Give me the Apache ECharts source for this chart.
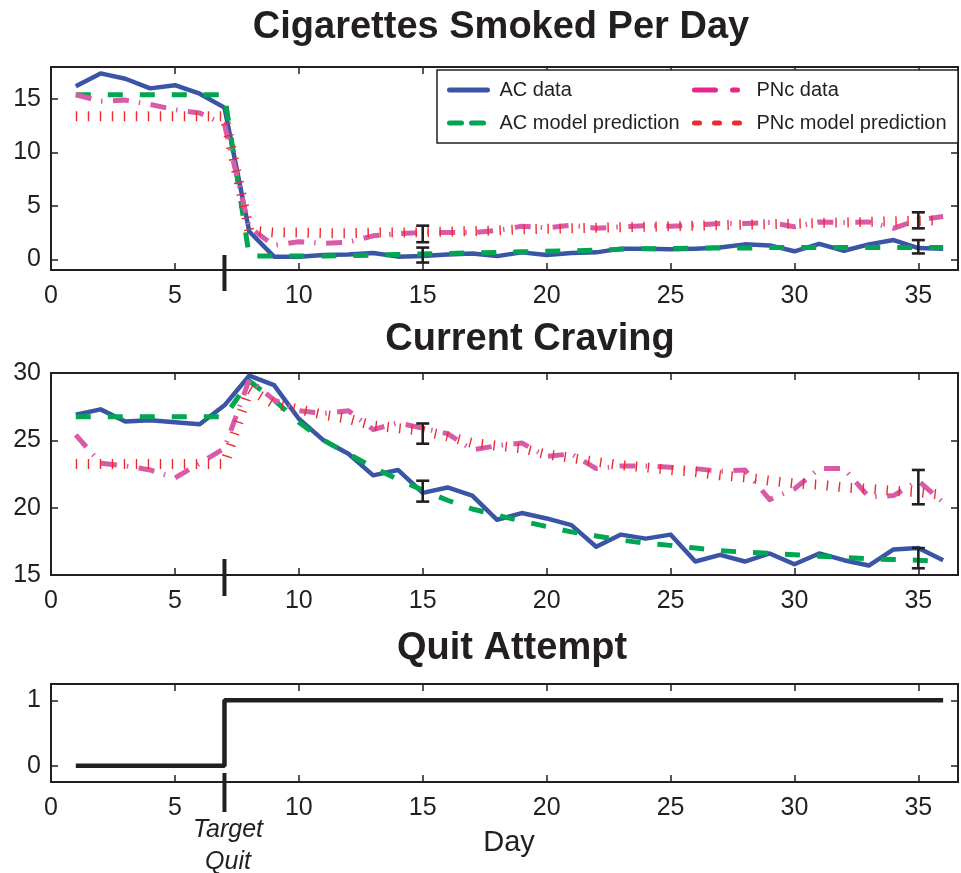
<!DOCTYPE html>
<html>
<head>
<meta charset="utf-8">
<script src="https://cdn.jsdelivr.net/npm/echarts@6/dist/echarts.min.js"></script>
<style>
html,body{margin:0;padding:0;background:#ffffff;}
#chart{width:961px;height:873px;}
</style>
</head>
<body>
<div id="chart"></div>
<script>
// ---------------- data ----------------
const days = [1,2,3,4,5,6,7,8,9,10,11,12,13,14,15,16,17,18,19,20,21,22,23,24,25,26,27,28,29,30,31,32,33,34,35,36];

const xTicks = [0,5,10,15,20,25,30,35];
const cigTicks = [0,5,10,15];
const cravTicks = [15,20,25,30];
const quitTicks = [0,1];

// Cigarettes smoked per day
const cigAC      = [16.2,17.4,16.9,16.0,16.3,15.5,14.2,2.6,0.25,0.25,0.4,0.45,0.6,0.25,0.3,0.45,0.55,0.3,0.65,0.4,0.6,0.65,1.0,1.0,0.95,1.0,1.1,1.4,1.3,0.75,1.45,0.8,1.4,1.8,1.05,1.0];
const cigACModel = [15.4,15.4,15.4,15.4,15.4,15.4,15.4,0.3,0.3,0.3,0.3,0.35,0.4,0.45,0.5,0.55,0.6,0.65,0.7,0.75,0.8,0.85,0.95,1.0,1.0,1.05,1.05,1.05,1.1,1.1,1.1,1.1,1.1,1.1,1.1,1.1];
const cigPNc     = [15.4,14.8,14.9,14.5,14.0,13.7,12.6,3.0,1.3,1.65,1.5,1.6,2.2,2.4,2.5,2.5,2.5,2.7,3.1,2.95,3.2,2.9,3.05,3.15,3.1,3.2,3.35,3.35,3.45,3.05,3.5,3.45,3.5,2.9,3.7,4.0];
const cigPNcModel= [13.4,13.4,13.4,13.4,13.4,13.4,13.4,2.7,2.5,2.5,2.45,2.45,2.5,2.5,2.55,2.6,2.65,2.7,2.8,2.85,2.9,2.95,3.0,3.05,3.1,3.15,3.2,3.25,3.3,3.35,3.4,3.45,3.5,3.55,3.6,3.65];
const cigErrDay  = [15,15,35,35];
const cigErrLow  = [1.6,-0.3,2.9,0.55];
const cigErrHigh = [3.15,1.1,4.4,1.8];

// Current craving
const cravAC      = [26.9,27.3,26.4,26.5,26.35,26.2,27.6,29.8,29.1,26.6,25.0,24.0,22.4,22.8,21.1,21.5,20.9,19.1,19.6,19.2,18.7,17.1,18.0,17.7,18.0,16.0,16.5,16.0,16.6,15.8,16.6,16.1,15.7,16.9,17.0,16.1];
const cravACModel = [26.75,26.75,26.75,26.75,26.75,26.75,26.75,29.4,28.0,26.35,25.0,24.0,23.0,22.1,21.3,20.55,19.9,19.45,19.0,18.6,18.2,17.9,17.6,17.35,17.2,17.0,16.8,16.7,16.6,16.5,16.4,16.3,16.2,16.15,16.1,16.0];
const cravPNc     = [25.4,23.3,23.1,22.8,22.2,23.3,24.4,29.5,28.0,27.2,27.0,27.2,25.8,26.3,25.9,25.5,24.3,24.6,24.8,23.8,24.0,22.9,23.1,23.1,23.0,22.9,22.7,22.8,20.6,21.4,22.9,22.9,20.8,20.9,22.0,20.4];
const cravPNcModel= [23.25,23.25,23.25,23.25,23.25,23.25,23.25,28.8,27.7,27.3,26.9,26.6,26.1,25.9,25.7,25.3,24.8,24.6,24.4,23.95,23.7,23.4,23.15,23.0,22.8,22.65,22.4,22.25,22.0,21.8,21.7,21.5,21.4,21.25,21.15,20.95];
const cravErrDay  = [15,15,35,35];
const cravErrLow  = [24.75,20.45,20.25,15.5];
const cravErrHigh = [26.25,22.0,22.8,17.0];

// Quit attempt (0 = no, 1 = yes)
const quit = [0,0,0,0,0,0,0,1,1,1,1,1,1,1,1,1,1,1,1,1,1,1,1,1,1,1,1,1,1,1,1,1,1,1,1,1];
const targetQuitDay = 7;

// ---------------- styling ----------------
const ink = '#231f20';
const FONT = '"Liberation Sans", Arial, Helvetica, sans-serif';
const cBlue = '#3a55a5';
const cGreen = '#00a651';
const cPink = '#d95ba7';
const cRed = '#ee2a2f';

const grids = [
  {left:51, top:67, width:907, height:203},
  {left:51, top:373, width:907, height:202},
  {left:51, top:684, width:907, height:98}
];
const yRanges = [[-1,18],[15,30],[-0.25,1.25]];
const yTickSets = [cigTicks, cravTicks, quitTicks];
const targetOffsets = [[-15,21],[-16,21],[-9,30]];

const xAxes = [], yAxes = [];
grids.forEach((g, i) => {
  const mkTick = vals => ({show:true, inside:true, length:7, customValues:vals, lineStyle:{color:ink, width:1.5}});
  const line = {show:false, onZero:false};
  xAxes.push({gridIndex:i, type:'value', min:0, max:36.6, position:'bottom',
    axisLine:line, axisTick:mkTick(xTicks),
    axisLabel:{show:true, customValues:xTicks, fontSize:25, margin:14, color:ink, fontFamily:FONT},
    splitLine:{show:false}});
  xAxes.push({gridIndex:i, type:'value', min:0, max:36.6, position:'top',
    axisLine:line, axisTick:mkTick(xTicks), axisLabel:{show:false}, splitLine:{show:false}});
  yAxes.push({gridIndex:i, type:'value', min:yRanges[i][0], max:yRanges[i][1], position:'left',
    axisLine:line, axisTick:mkTick(yTickSets[i]),
    axisLabel:{show:true, customValues:yTickSets[i], fontSize:25, margin:10, color:ink, fontFamily:FONT},
    splitLine:{show:false}});
  yAxes.push({gridIndex:i, type:'value', min:yRanges[i][0], max:yRanges[i][1], position:'right',
    axisLine:line, axisTick:mkTick(yTickSets[i]), axisLabel:{show:false}, splitLine:{show:false}});
});

const pair = arr => days.map((d, k) => [d, arr[k]]);

function lineSeries(name, arr, gi, color, width, dash) {
  return {
    name, type:'line', xAxisIndex:gi*2, yAxisIndex:gi*2, data:pair(arr),
    symbol:'none', showSymbol:false, animation:false,
    lineStyle:{color, width, type:dash || 'solid', cap:'butt', join:'round'},
    itemStyle:{color}
  };
}

function errSeries(gi, dArr, lo, hi) {
  return {
    type:'custom', xAxisIndex:gi*2, yAxisIndex:gi*2,
    data: dArr.map((d, k) => [d, lo[k], hi[k]]),
    encode:{x:0, y:[1,2]}, z:5, silent:true,
    renderItem:(params, api) => {
      const a = api.coord([api.value(0), api.value(1)]);
      const b = api.coord([api.value(0), api.value(2)]);
      const st = {stroke:ink, lineWidth:2.6};
      return {type:'group', children:[
        {type:'line', shape:{x1:a[0], y1:a[1], x2:b[0], y2:b[1]}, style:st},
        {type:'line', shape:{x1:a[0]-6.5, y1:a[1], x2:a[0]+6.5, y2:a[1]}, style:st},
        {type:'line', shape:{x1:b[0]-6.5, y1:b[1], x2:b[0]+6.5, y2:b[1]}, style:st}
      ]};
    }
  };
}

function targetSeries(gi) {
  return {
    type:'custom', xAxisIndex:gi*2, yAxisIndex:gi*2, clip:false, z:6, silent:true,
    data:[[targetQuitDay, yRanges[gi][0]]],
    renderItem:(params, api) => {
      const p = api.coord([api.value(0), api.value(1)]);
      return {type:'line', shape:{x1:p[0], y1:p[1]+targetOffsets[gi][0], x2:p[0], y2:p[1]+targetOffsets[gi][1]},
        style:{stroke:ink, lineWidth:4}};
    }
  };
}

const greenDash = [15,17];
const pinkDash = [16,10,1.5,10.5];
const redDash = [1.4,10.6];

const series = [
  lineSeries('AC data', cigAC, 0, cBlue, 4.5),
  lineSeries('AC model prediction', cigACModel, 0, cGreen, 5, greenDash),
  lineSeries('PNc data', cigPNc, 0, cPink, 5, pinkDash),
  lineSeries('PNc model prediction', cigPNcModel, 0, cRed, 10, redDash),
  errSeries(0, cigErrDay, cigErrLow, cigErrHigh),
  targetSeries(0),
  lineSeries('AC data', cravAC, 1, cBlue, 4.5),
  lineSeries('AC model prediction', cravACModel, 1, cGreen, 5, greenDash),
  lineSeries('PNc data', cravPNc, 1, cPink, 5, pinkDash),
  lineSeries('PNc model prediction', cravPNcModel, 1, cRed, 10, redDash),
  errSeries(1, cravErrDay, cravErrLow, cravErrHigh),
  targetSeries(1),
  {name:'Quit attempt', type:'line', xAxisIndex:4, yAxisIndex:4, data:pair(quit), step:'start',
   symbol:'none', showSymbol:false, lineStyle:{color:ink, width:4.5, cap:'butt'}},
  targetSeries(2)
];

const legendText = {fontSize:20, color:ink, fontFamily:FONT};
const option = {
  animation:false,
  backgroundColor:'#ffffff',
  grid: grids.map(g => Object.assign({show:true, borderColor:ink, borderWidth:2, backgroundColor:'transparent'}, g)),
  xAxis:xAxes,
  yAxis:yAxes,
  legend:[
    {orient:'vertical', left:447, top:80, padding:0, itemWidth:38, itemHeight:20, itemGap:13, selectedMode:false,
     textStyle:Object.assign({padding:[0,0,0,7]}, legendText),
     data:[
       {name:'AC data', itemStyle:{opacity:0}, lineStyle:{color:cBlue, width:5, type:'solid', cap:'round'}},
       {name:'AC model prediction', itemStyle:{opacity:0}, lineStyle:{color:cGreen, width:5, type:[12,10], cap:'round'}}
     ]},
    {orient:'vertical', left:692, top:80, padding:0, itemWidth:49, itemHeight:20, itemGap:13, selectedMode:false,
     textStyle:Object.assign({padding:[0,0,0,8]}, legendText),
     data:[
       {name:'PNc data', itemStyle:{opacity:0}, lineStyle:{color:'#e8258a', width:5, type:[21,17,5,30], cap:'round'}},
       {name:'PNc model prediction', itemStyle:{opacity:0}, lineStyle:{color:cRed, width:5, type:[5,15], cap:'round'}}
     ]}
  ],
  graphic:[
    {type:'rect', z:1, shape:{x:437, y:70, width:521, height:73}, style:{fill:'#ffffff', stroke:ink, lineWidth:1.5}},
    {type:'text', x:501, y:28, style:{text:'Cigarettes Smoked Per Day', font:'bold 38px ' + FONT, fill:ink, align:'center', verticalAlign:'middle'}},
    {type:'text', x:530, y:340, style:{text:'Current Craving', font:'bold 38px ' + FONT, fill:ink, align:'center', verticalAlign:'middle'}},
    {type:'text', x:512, y:649, style:{text:'Quit Attempt', font:'bold 38px ' + FONT, fill:ink, align:'center', verticalAlign:'middle'}},
    {type:'text', x:509, y:843, style:{text:'Day', font:'29px ' + FONT, fill:ink, align:'center', verticalAlign:'middle'}},
    {type:'text', x:228, y:830, style:{text:'Target', font:'italic 25px ' + FONT, fill:ink, align:'center', verticalAlign:'middle'}},
    {type:'text', x:228, y:862, style:{text:'Quit', font:'italic 25px ' + FONT, fill:ink, align:'center', verticalAlign:'middle'}}
  ],
  series
};

const chart = echarts.init(document.getElementById('chart'), null, {renderer:'canvas'});
chart.setOption(option);
</script>
</body>
</html>
